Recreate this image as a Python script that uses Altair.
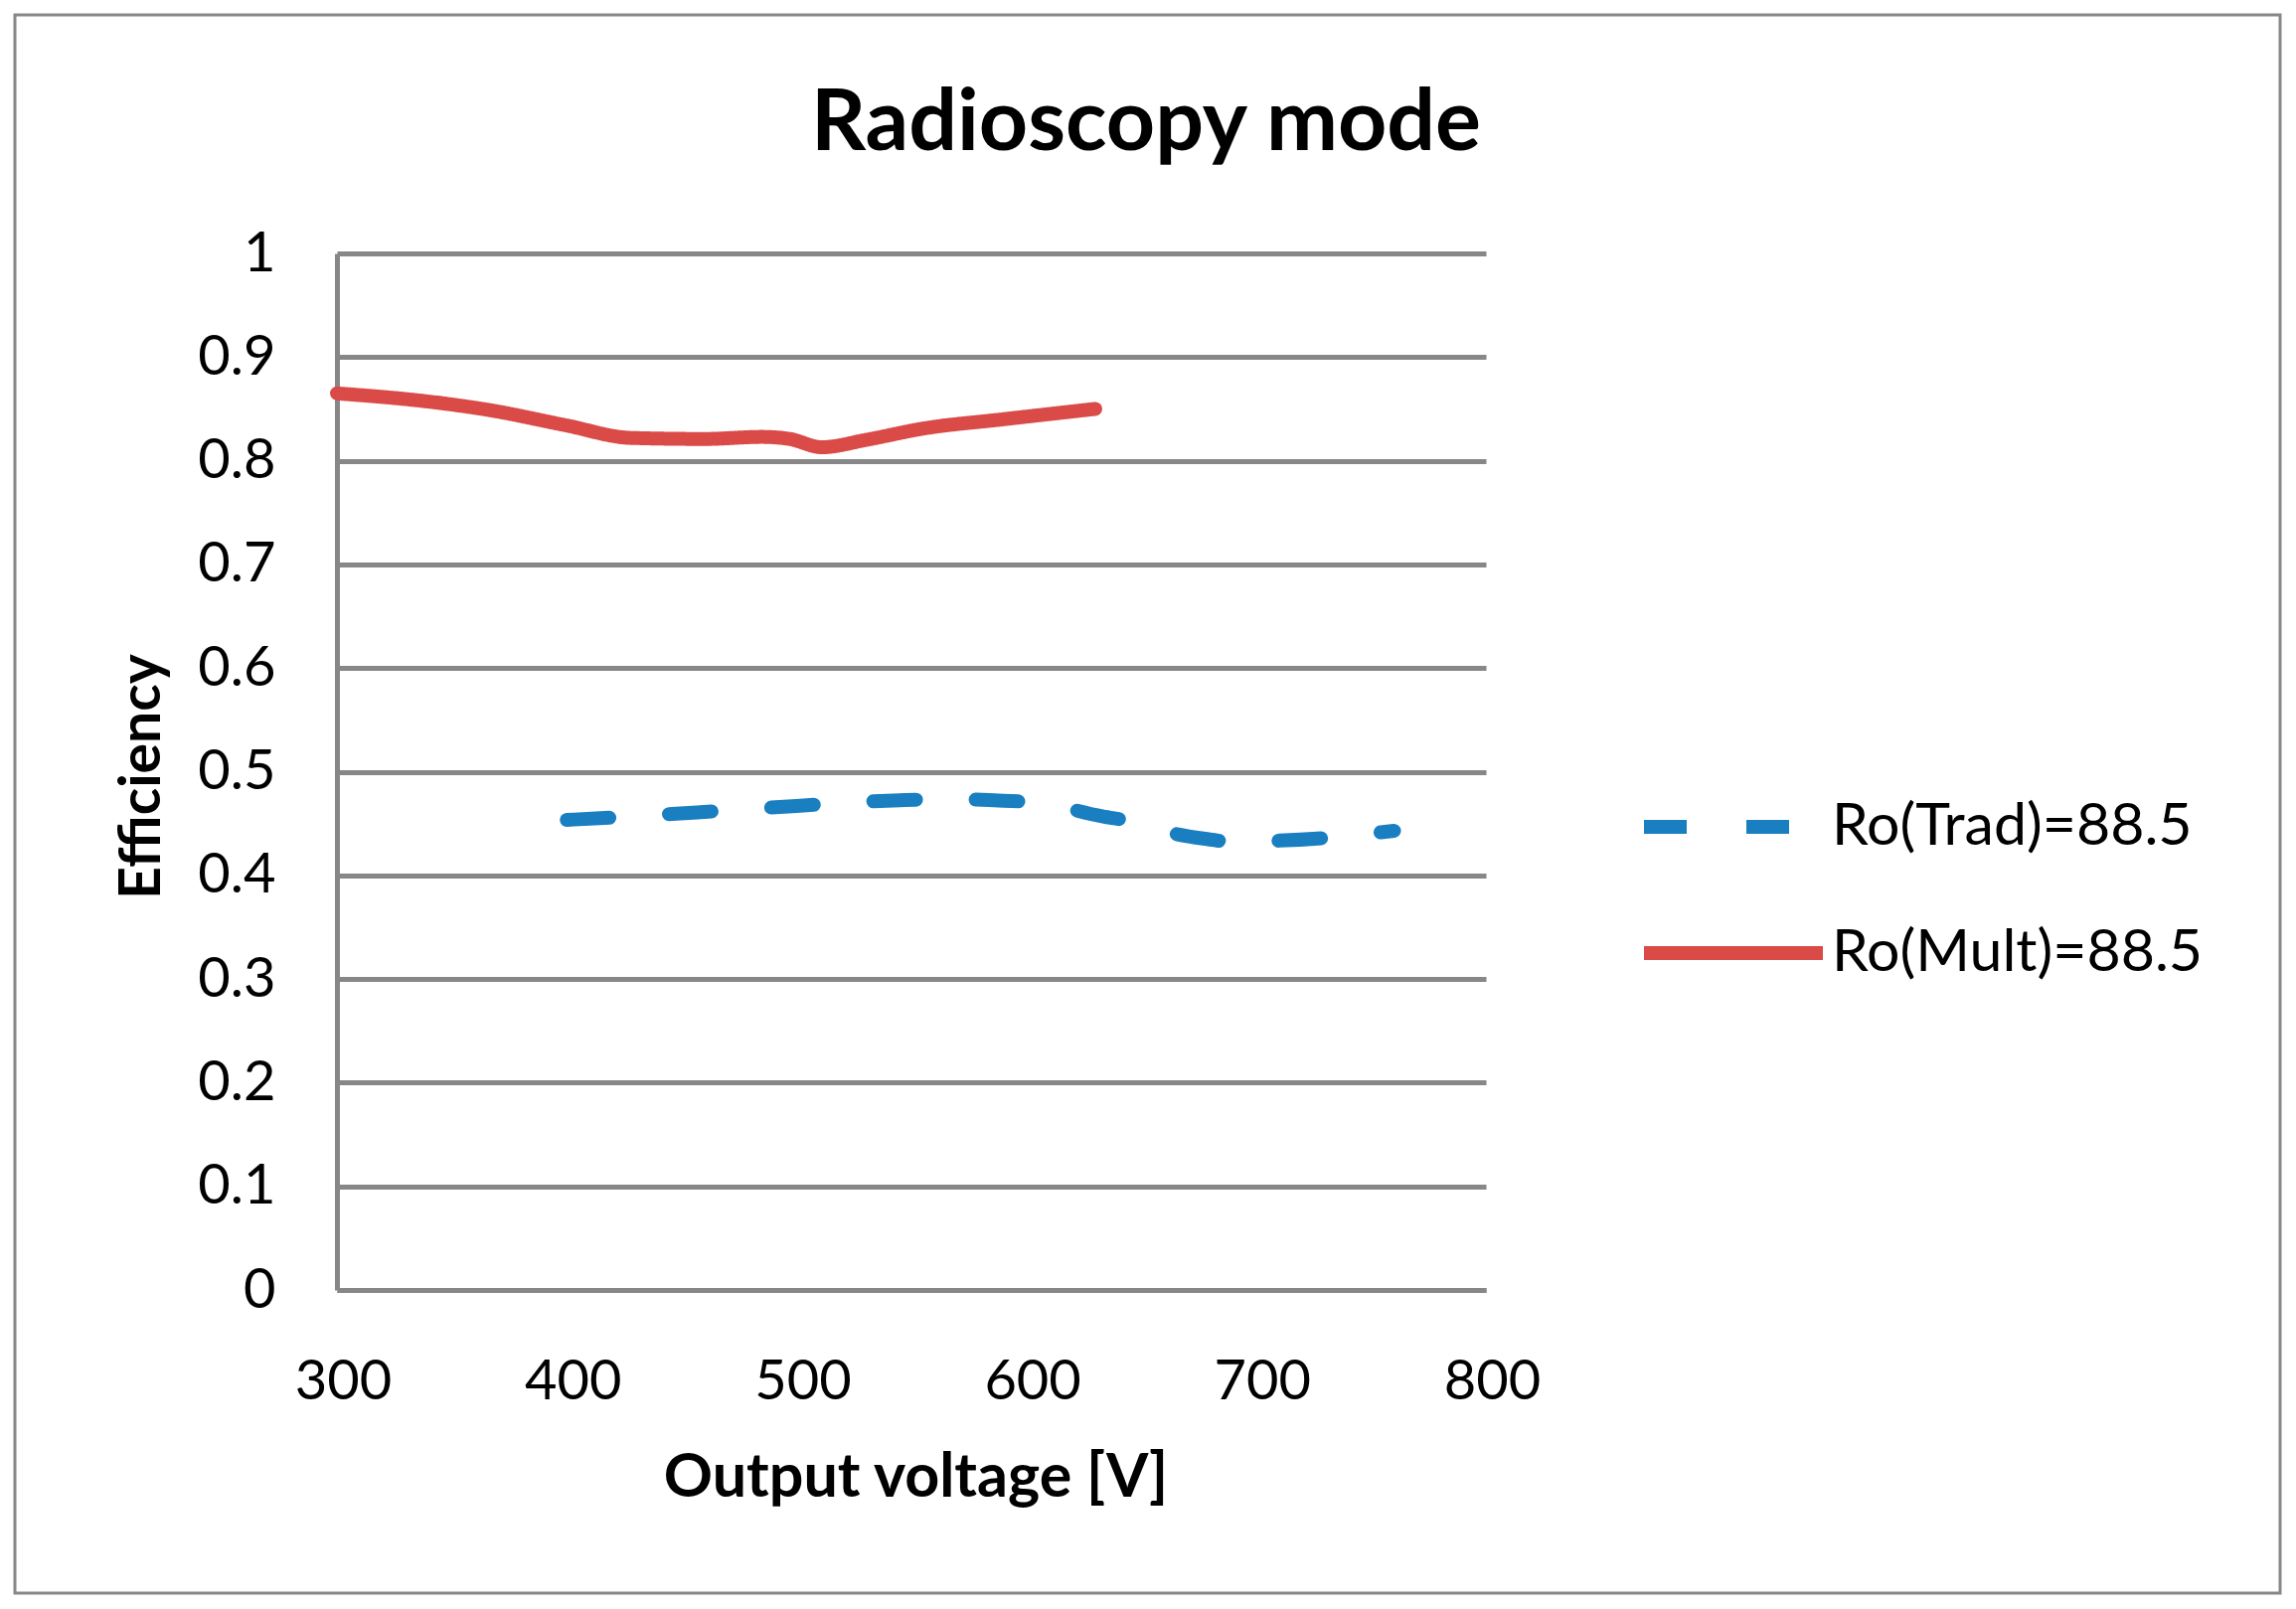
import altair as alt
import pandas as pd

# Data
trad_v = [400, 422, 455, 500, 545, 565, 590, 605, 633, 646, 665, 677, 690, 710, 735, 760]
trad_eff = [0.4535, 0.456, 0.4605, 0.467, 0.4725, 0.4735, 0.472, 0.470, 0.457, 0.452,
            0.440, 0.4355, 0.4325, 0.4335, 0.437, 0.443]
mult_v = [300, 340, 366, 400, 428, 460, 485, 497, 511, 530, 555, 590, 630]
mult_eff = [0.865, 0.857, 0.849, 0.834, 0.822, 0.821, 0.823, 0.821, 0.813, 0.820,
            0.831, 0.840, 0.850]
series_names = ["Ro(Trad)=88.5", "Ro(Mult)=88.5"]
x_ticks = [300, 400, 500, 600, 700, 800]
y_ticks = [0, 0.1, 0.2, 0.3, 0.4, 0.5, 0.6, 0.7, 0.8, 0.9, 1.0]

rows = []
for i, (v, e) in enumerate(zip(trad_v, trad_eff)):
    rows.append({"series": series_names[0], "voltage": v, "eff": e, "order": i})
for i, (v, e) in enumerate(zip(mult_v, mult_eff)):
    rows.append({"series": series_names[1], "voltage": v, "eff": e, "order": i})
df = pd.DataFrame(rows)

FONT = "Lato"
GRID = "#878787"

legend_kw = dict(orient="none", legendX=1308, legendY=480,
                 title=None, symbolType="stroke",
                 symbolSize=32400, symbolStrokeWidth=14,
                 labelFont=FONT, labelFontSize=59, labelColor="black",
                 labelLimit=0, labelOffset=2, rowPadding=-9)

lines = alt.Chart(df).mark_line(strokeWidth=14, strokeCap="round", interpolate="monotone").encode(
    x=alt.X("voltage:Q",
            scale=alt.Scale(domain=[300, 800], nice=False, zero=False),
            axis=alt.Axis(values=x_ticks, grid=False, ticks=False, tickSize=0,
                          domainColor=GRID, domainWidth=5, labelFlush=False,
                          labelOffset=6,
                          labelFont=FONT, labelFontSize=56, labelColor="black",
                          labelBaseline="alphabetic", labelPadding=109,
                          title="Output voltage [V]", titleFont=FONT, titleFontSize=61,
                          titleFontWeight="bold", titleColor="black",
                          titleBaseline="alphabetic", titleX=582, titleY=207,
                          titleAnchor="middle")),
    y=alt.Y("eff:Q",
            scale=alt.Scale(domain=[0, 1], nice=False),
            axis=alt.Axis(values=y_ticks, format=".1~f", grid=True, gridColor=GRID,
                          gridWidth=5, ticks=False, tickSize=0,
                          domainColor=GRID, domainWidth=5,
                          labelFont=FONT, labelFontSize=56, labelColor="black",
                          labelPadding=62, labelBaseline="middle",
                          title="Efficiency", titleFont=FONT, titleFontSize=57,
                          titleFontWeight="bold", titleColor="black",
                          titleAngle=-90, titleBaseline="middle",
                          titleX=-196, titleY=526, titleAnchor="middle")),
    color=alt.Color("series:N",
                    scale=alt.Scale(domain=series_names, range=["#1A7FC0", "#DA4B48"]),
                    legend=alt.Legend(**legend_kw)),
    strokeDash=alt.StrokeDash("series:N",
                              scale=alt.Scale(domain=series_names, range=[[43, 60], [1, 0]]),
                              legend=alt.Legend(**legend_kw)),
    order="order:Q",
)

border = alt.Chart(pd.DataFrame({"a": [0]})).mark_rect(
    fill=None, stroke=GRID, strokeWidth=3, clip=False
).encode(
    x=alt.value(-324), x2=alt.value(1955), y=alt.value(-240), y2=alt.value(1348)
)

chart = alt.layer(border, lines).properties(
    width=1156, height=1043,
    autosize=alt.AutoSizeParams(type="none"),
    padding={"left": 331, "top": 247, "right": 807, "bottom": 313},
    title=alt.TitleParams("Radioscopy mode", font=FONT, fontSize=86, fontWeight="bold",
                          color="black", anchor="middle", frame="group", dx=236,
                          baseline="alphabetic", offset=-223),
).configure(background="white", view=alt.ViewConfig(stroke="transparent", strokeWidth=0))

chart.save("out.html", embed_options={"renderer": "svg", "actions": False})
